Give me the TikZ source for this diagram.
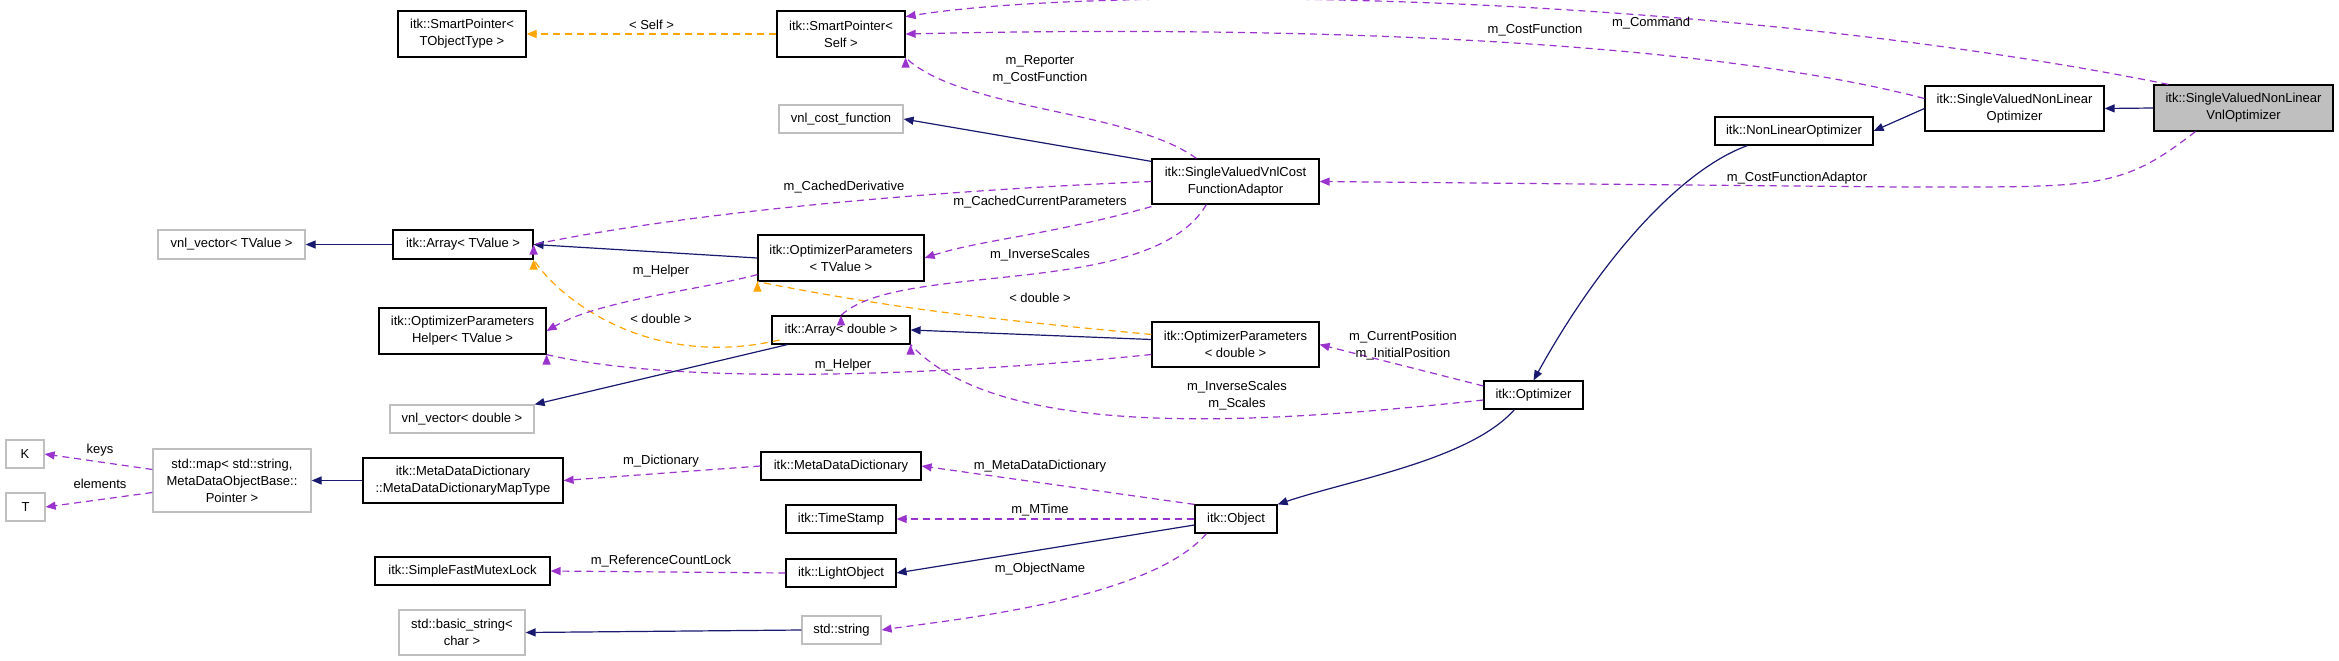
\documentclass[tikz,border=0pt]{standalone}
\usepackage{fontspec}
\setmainfont{Liberation Sans}
\usetikzlibrary{arrows.meta}
\definecolor{nav}{HTML}{191970}
\definecolor{pur}{HTML}{9A32CD}
\definecolor{org}{HTML}{FFA500}
\definecolor{gbd}{HTML}{BFBFBF}
\begin{document}
\begin{tikzpicture}[x=1pt,y=-1pt,
  every node/.style={font=\fontsize{13}{17}\selectfont},
  bx/.style={draw=black,line width=1.2pt,inner sep=0pt,align=center,fill=white},
  gb/.style={draw=gbd,line width=1.2pt,inner sep=0pt,align=center,fill=white},
  inh/.style={draw=nav,line width=1.2pt,-{Triangle[length=10pt,width=8pt]}},
  use/.style={draw=pur,line width=1.2pt,dash pattern=on 7pt off 5pt,-{Triangle[length=10pt,width=8pt]},
     arrows={-{Triangle[length=10pt,width=8pt,fill=pur]}}},
  tpl/.style={draw=org,line width=1.2pt,dash pattern=on 7pt off 5pt,arrows={-{Triangle[length=10pt,width=8pt,fill=org]}}},
  lb/.style={inner sep=0pt,align=center}]
\useasboundingbox (0,0) rectangle (2339,661);
\def\B#1#2#3#4#5#6#7{\node[#1,minimum width=#5pt,minimum height=#6pt] (#2) at (#3,#4) {#7};}
\B{bx}{spt}{462}{34}{128}{46}{itk::SmartPointer<\\TObjectType >}
\B{bx}{sps}{841}{34}{128}{46}{itk::SmartPointer<\\Self >}
\B{gb}{vcf}{841}{119}{124}{28}{vnl\_cost\_function}
\B{bx}{ada}{1235.5}{181.5}{167}{45}{itk::SingleValuedVnlCost\\FunctionAdaptor}
\B{gb}{vvt}{231.5}{244.5}{147}{29}{vnl\_vector< TValue >}
\B{bx}{art}{463}{244.5}{140}{29}{itk::Array< TValue >}
\B{bx}{opt}{841}{258}{166}{46}{itk::OptimizerParameters\\< TValue >}
\B{bx}{hlp}{462.5}{331}{167}{46}{itk::OptimizerParameters\\Helper< TValue >}
\B{bx}{ard}{841}{330}{138}{28}{itk::Array< double >}
\B{bx}{opd}{1235.5}{344.5}{167}{45}{itk::OptimizerParameters\\< double >}
\B{gb}{vvd}{462}{419}{144}{28}{vnl\_vector< double >}
\B{bx}{nlo}{1794}{131}{158}{28}{itk::NonLinearOptimizer}
\B{bx}{svn}{2014.5}{108.5}{179}{45}{itk::SingleValuedNonLinear\\Optimizer}
\node[bx,fill=gbd,minimum width=179pt,minimum height=46pt] (main) at (2243.5,108) {itk::SingleValuedNonLinear\\VnlOptimizer};
\B{bx}{opz}{1533.5}{395}{99}{28}{itk::Optimizer}
\B{bx}{obj}{1236}{519}{82}{28}{itk::Object}
\B{bx}{mdd}{841}{466}{160}{28}{itk::MetaDataDictionary}
\B{bx}{ts}{841}{519}{110}{28}{itk::TimeStamp}
\B{bx}{lo}{841}{573}{110}{28}{itk::LightObject}
\B{gb}{str}{841.5}{630}{79}{28}{std::string}
\B{bx}{mt}{463}{480.5}{200}{45}{itk::MetaDataDictionary\\::MetaDataDictionaryMapType}
\B{bx}{mx}{462.5}{571}{175}{28}{itk::SimpleFastMutexLock}
\B{gb}{bs}{462}{632.5}{126}{45}{std::basic\_string<\\char >}
\B{gb}{sm}{232}{480.5}{158}{63}{std::map< std::string,\\MetaDataObjectBase::\\Pointer >}
\B{gb}{K}{25}{454}{38}{28}{K}
\B{gb}{T}{25.5}{507}{39}{28}{T}
% inheritance
\draw[inh] (main.west) -- (svn.east);
\draw[inh] (svn.west) -- (nlo.east);
\draw[inh] (nlo.south west) ++(33,0) .. controls (1680,170) and (1600,260) .. (opz.north);
\draw[inh] (opz.south west) ++(31,0) .. controls (1470,460) and (1350,480) .. (obj.north east);
\draw[inh] (obj.west) ++(0,6) -- (lo.east);
\draw[inh] (ada.north west) ++(0,3) -- (vcf.east);
\draw[inh] (opt.west) -- (art.east);
\draw[inh] (art.west) -- (vvt.east);
\draw[inh] (opd.west) ++(0,-5) -- (ard.east);
\draw[inh] (ard.south west) ++(16,0) -- (vvd.north east);
\draw[inh] (mt.west) -- (sm.east);
\draw[inh] (str.west) -- (bs.east);
% templates
\draw[tpl] (sps.west) -- node[lb,above=4pt]{< Self >} (spt.east);
\draw[tpl] (opd.west) ++(0,-10) .. controls (1000,320) and (900,310) .. (opt.south west) ++(0,0);
\draw[tpl] (ard.west) ++(8,10) .. controls (650,370) and (560,300) .. (art.south east) ++(0,0);
\node[lb] at (1040,298) {< double >};
\node[lb] at (661,319) {< double >};
% usage
\draw[use] (main.north west) ++(15,0) .. controls (1700,-10) and (1100,-15) .. (sps.15);
\node[lb] at (1651,23) {m\_Command};
\draw[use] (svn.west) ++(0,-10) .. controls (1700,40) and (1300,25) .. (sps.east);
\node[lb,fill=white,fill opacity=0,text opacity=1] at (1535,30) {m\_CostFunction};
\draw[use] (ada.north west) ++(45,0) .. controls (1130,110) and (960,110) .. (sps.south east) ++(0,0);
\node[lb] at (1040,69.5) {m\_Reporter\\m\_CostFunction};
\draw[use] (main.south west) ++(42,0) .. controls (2120,190) and (2100,187) .. (1900,187) -- (ada.east);
\node[lb] at (1797,178) {m\_CostFunctionAdaptor};
\draw[use] (ada.west) .. controls (950,190) and (700,210) .. (art.east) ++(0,0);
\node[lb] at (844,187) {m\_CachedDerivative};
\draw[use] (ada.south west) ++(0,2) .. controls (1050,235) and (980,240) .. (opt.east);
\node[lb] at (1040,202) {m\_CachedCurrentParameters};
\draw[use] (ada.south west) ++(55,0) .. controls (1150,300) and (900,260) .. (ard.north) ++(0,0);
\node[lb] at (1040,255) {m\_InverseScales};
\draw[use] (opt.south west) ++(0,-7) .. controls (700,290) and (600,300) .. (hlp.east);
\node[lb] at (661,271) {m\_Helper};
\draw[use] (opd.west) ++(0,10) .. controls (1000,370) and (700,390) .. (hlp.south east) ++(0,0);
\node[lb] at (843,365) {m\_Helper};
\draw[use] (opz.west) ++(0,-9) -- (opd.east);
\node[lb] at (1403,346) {m\_CurrentPosition\\m\_InitialPosition};
\draw[use] (opz.west) ++(0,5) .. controls (1250,425) and (1000,440) .. (ard.south east) ++(0,0);
\node[lb] at (1237,396) {m\_InverseScales\\m\_Scales};
\draw[use] (obj.north west) -- (mdd.east);
\node[lb] at (1040,466) {m\_MetaDataDictionary};
\draw[use] (obj.west) -- (ts.east);
\node[lb] at (1040,510) {m\_MTime};
\draw[use] (obj.south west) ++(12,0) .. controls (1150,600) and (950,620) .. (str.east);
\node[lb] at (1040,569) {m\_ObjectName};
\draw[use] (mdd.west) -- (mt.east);
\node[lb] at (661,461) {m\_Dictionary};
\draw[use] (lo.west) -- (mx.east);
\node[lb] at (661,561) {m\_ReferenceCountLock};
\draw[use] (sm.west) ++(0,-11) -- (K.east);
\node[lb] at (100,450) {keys};
\draw[use] (sm.west) ++(0,12) -- (T.east);
\node[lb] at (100,484) {elements};
\end{tikzpicture}
\end{document}
